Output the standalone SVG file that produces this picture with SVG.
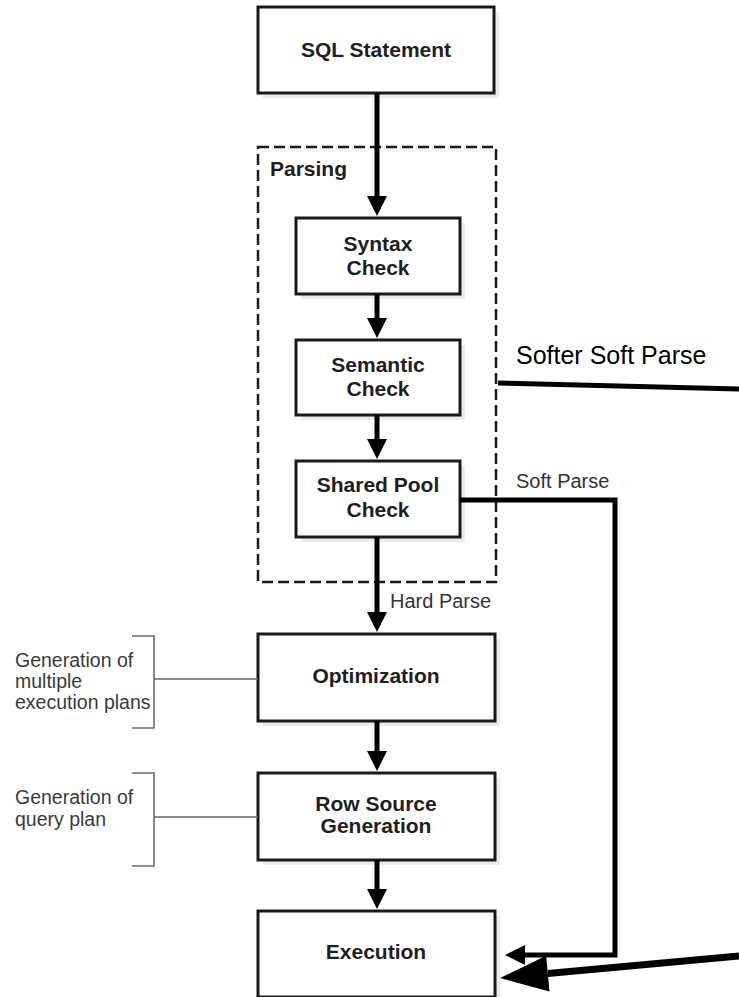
<svg xmlns="http://www.w3.org/2000/svg" width="739" height="997" viewBox="0 0 739 997">
<style>
  .box { fill: #ffffff; stroke: #1a1a1a; stroke-width: 3; }
  .shadow { fill: #ebebeb; }
  .lbl { font-family: "Liberation Sans", Arial, sans-serif; font-weight: bold; font-size: 21px; fill: #1e1e1e; text-anchor: middle; }
  .note { font-family: "Liberation Sans", Arial, sans-serif; font-size: 19.5px; fill: #3a3a3a; }
  .edge { font-family: "Liberation Sans", Arial, sans-serif; font-size: 20px; fill: #333333; }
  .arrow { stroke: #000; stroke-width: 5; fill: none; }
  .brk { stroke: #6a6a6a; stroke-width: 1.6; fill: none; }
</style>
<defs>
  <marker id="ah" markerUnits="userSpaceOnUse" markerWidth="20" markerHeight="20" refX="0" refY="10" orient="auto" overflow="visible">
    <path d="M0,0 L20,10 L0,20 z" fill="#000"/>
  </marker>
  <marker id="bigah" markerUnits="userSpaceOnUse" markerWidth="48" markerHeight="36" refX="0" refY="18" orient="auto" overflow="visible">
    <path d="M0,0 L48,18 L0,36 z" fill="#000"/>
  </marker>
</defs>
<rect width="739" height="997" fill="#ffffff"/>

<g id="parsing">
  <rect x="258" y="147" width="238" height="435" fill="none" stroke="#1a1a1a" stroke-width="2.5" stroke-dasharray="11 5"/>
  <text x="270" y="176" class="lbl" style="text-anchor:start">Parsing</text>
</g>

<g id="sql-statement">
  <rect class="shadow" x="263" y="12" width="236" height="86"/>
  <rect class="box" x="258" y="7" width="236" height="86"/>
  <text x="376" y="57" class="lbl">SQL Statement</text>
</g>

<g id="syntax-check">
  <rect class="shadow" x="301" y="223" width="164" height="76"/>
  <rect class="box" x="296" y="218" width="164" height="76"/>
  <text x="378" y="251" class="lbl">Syntax</text>
  <text x="378" y="275" class="lbl">Check</text>
</g>

<g id="semantic-check">
  <rect class="shadow" x="301" y="345" width="164" height="75"/>
  <rect class="box" x="296" y="340" width="164" height="75"/>
  <text x="378" y="372" class="lbl">Semantic</text>
  <text x="378" y="396" class="lbl">Check</text>
</g>

<g id="shared-pool-check">
  <rect class="shadow" x="301" y="466" width="164" height="76"/>
  <rect class="box" x="296" y="461" width="164" height="76"/>
  <text x="378" y="492" class="lbl">Shared Pool</text>
  <text x="378" y="517" class="lbl">Check</text>
</g>

<g id="optimization">
  <rect class="shadow" x="263" y="639" width="237" height="87"/>
  <rect class="box" x="258" y="634" width="237" height="87"/>
  <text x="376" y="683" class="lbl">Optimization</text>
</g>

<g id="row-source-generation">
  <rect class="shadow" x="263" y="778" width="237" height="87"/>
  <rect class="box" x="258" y="773" width="237" height="87"/>
  <text x="376" y="811" class="lbl">Row Source</text>
  <text x="376" y="833" class="lbl">Generation</text>
</g>

<g id="execution">
  <rect class="shadow" x="263" y="916" width="237" height="86"/>
  <rect class="box" x="258" y="911" width="237" height="86"/>
  <text x="376" y="959" class="lbl">Execution</text>
</g>

<g id="note-optimization">
  <path class="brk" d="M132,636 H154 V728 H132 M154,679 H258"/>
  <text class="note" x="15" y="667">Generation of</text>
  <text class="note" x="15" y="688">multiple</text>
  <text class="note" x="15" y="709">execution plans</text>
</g>

<g id="note-rowsource">
  <path class="brk" d="M132,773 H154 V866 H132 M154,817 H258"/>
  <text class="note" x="15" y="804">Generation of</text>
  <text class="note" x="15" y="826">query plan</text>
</g>

<g id="connectors">
  <line class="arrow" x1="377" y1="93" x2="377" y2="196" marker-end="url(#ah)"/>
  <line class="arrow" x1="377" y1="294" x2="377" y2="318" marker-end="url(#ah)"/>
  <line class="arrow" x1="377" y1="415" x2="377" y2="439" marker-end="url(#ah)"/>
  <line class="arrow" x1="377" y1="537" x2="377" y2="612" marker-end="url(#ah)"/>
  <line class="arrow" x1="377" y1="721" x2="377" y2="751" marker-end="url(#ah)"/>
  <line class="arrow" x1="377" y1="860" x2="377" y2="889" marker-end="url(#ah)"/>
  <path class="arrow" d="M460,500 H615 V955 H525" marker-end="url(#ah)"/>
  <text class="edge" x="390" y="608">Hard Parse</text>
  <text class="edge" x="516" y="488">Soft Parse</text>
  <line x1="498" y1="383" x2="739" y2="389" stroke="#000" stroke-width="5"/>
  <text x="516" y="364" font-family="Liberation Sans, Arial, sans-serif" font-size="25" fill="#000">Softer Soft Parse</text>
  <line x1="739" y1="956" x2="547.8" y2="973.6" stroke="#000" stroke-width="7" marker-end="url(#bigah)"/>
</g>
</svg>
